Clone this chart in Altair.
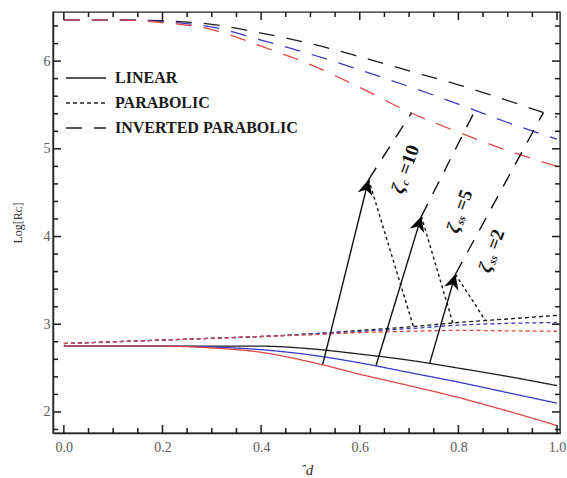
import math
import altair as alt
import pandas as pd

# ---------------- data ----------------
x_vals = [0.0, 0.1, 0.2, 0.3, 0.4, 0.5, 0.6, 0.7, 0.8, 0.9, 1.0]

lin_black = [2.75, 2.75, 2.75, 2.75, 2.75, 2.72, 2.66, 2.59, 2.50, 2.405, 2.30]
lin_blue = [2.75, 2.75, 2.75, 2.74, 2.71, 2.65, 2.56, 2.45, 2.34, 2.22, 2.10]
lin_red = [2.75, 2.75, 2.75, 2.73, 2.68, 2.57, 2.43, 2.30, 2.165, 2.01, 1.845]

par_black = [2.78, 2.80, 2.82, 2.84, 2.86, 2.89, 2.93, 2.97, 3.02, 3.06, 3.10]
par_blue = [2.78, 2.80, 2.82, 2.84, 2.86, 2.89, 2.92, 2.95, 2.99, 3.01, 3.02]
par_red = [2.78, 2.80, 2.82, 2.84, 2.86, 2.88, 2.905, 2.92, 2.93, 2.925, 2.92]

inv_black = [6.47, 6.47, 6.46, 6.42, 6.32, 6.20, 6.05, 5.89, 5.73, 5.55, 5.36]
inv_blue = [6.47, 6.47, 6.45, 6.39, 6.24, 6.08, 5.90, 5.71, 5.51, 5.30, 5.11]
inv_red = [6.47, 6.47, 6.44, 6.36, 6.17, 5.96, 5.70, 5.42, 5.19, 4.98, 4.80]

profiles = ["LINEAR", "PARABOLIC", "INVERTED PARABOLIC"]
cases = ["black", "blue", "red"]

# annotation arrows (from linear curve up to the arrow tip)
ann_base_x = [0.525, 0.633, 0.742]
ann_base_y = [2.545, 2.53, 2.56]
ann_tip_x = [0.618, 0.725, 0.794]
ann_tip_y = [4.65, 4.23, 3.57]
ann_par_x = [0.71, 0.79, 0.855]
ann_par_y = [2.95, 2.99, 3.04]
ann_inv_x = [0.705, 0.834, 0.972]
ann_inv_y = [5.41, 5.44, 5.41]
lab_x = [0.675, 0.787, 0.852]
lab_y = [4.50, 4.05, 3.60]
lab_main = ["ζ", "ζ", "ζ"]
lab_sub = ["c", "ss", "ss"]
lab_rest = ["=10", "=5", "=2"]

# axis tick positions
x_major_ticks = [0.0, 0.2, 0.4, 0.6, 0.8, 1.0]
x_minor_ticks = [0.05, 0.1, 0.15, 0.25, 0.3, 0.35, 0.45, 0.5, 0.55, 0.65, 0.7, 0.75,
                 0.85, 0.9, 0.95]
y_major_ticks = [2, 3, 4, 5, 6]
y_minor_ticks = [1.8, 2.2, 2.4, 2.6, 2.8, 3.2, 3.4, 3.6, 3.8, 4.2, 4.4, 4.6, 4.8,
                 5.2, 5.4, 5.6, 5.8, 6.2, 6.4]

# ---------------- layout / style ----------------
X_DOMAIN = [-0.022, 1.006]
Y_DOMAIN = [1.76, 6.56]
W, H = 507, 421
COLORS = ["#1e1e1e", "#3a3ac4", "#e04848"]
DASHES = [[1, 0], [4, 3], [16, 12]]
SERIF = "Liberation Serif"
MAJOR_LEN, MINOR_LEN = 8, 5
TICK_COLOR = "#1a1a1a"
TICK_W = 1.5

series = {
    ("LINEAR", "black"): lin_black, ("LINEAR", "blue"): lin_blue, ("LINEAR", "red"): lin_red,
    ("PARABOLIC", "black"): par_black, ("PARABOLIC", "blue"): par_blue, ("PARABOLIC", "red"): par_red,
    ("INVERTED PARABOLIC", "black"): inv_black, ("INVERTED PARABOLIC", "blue"): inv_blue,
    ("INVERTED PARABOLIC", "red"): inv_red,
}
rows = []
for (prof, case), ys in series.items():
    for xv, yv in zip(x_vals, ys):
        rows.append({"x": xv, "y": yv, "profile": prof, "case": case, "key": prof + case})
df = pd.DataFrame(rows)

px_x = W / (X_DOMAIN[1] - X_DOMAIN[0])
px_y = H / (Y_DOMAIN[1] - Y_DOMAIN[0])
angles = []
for bx, by, tx, ty in zip(ann_base_x, ann_base_y, ann_tip_x, ann_tip_y):
    a = math.degrees(math.atan2((tx - bx) * px_x, (ty - by) * px_y))
    angles.append(a % 360)

ann = pd.DataFrame({
    "bx": ann_base_x, "by": ann_base_y, "tx": ann_tip_x, "ty": ann_tip_y,
    "px": ann_par_x, "py": ann_par_y, "ix": ann_inv_x, "iy": ann_inv_y,
    "lx": lab_x, "ly": lab_y, "main": lab_main, "sub": lab_sub, "rest": lab_rest,
    "ang": angles,
})

xs = alt.Scale(domain=X_DOMAIN, nice=False, zero=False)
ys_ = alt.Scale(domain=Y_DOMAIN, nice=False, zero=False)
X = lambda f: alt.X(f, scale=xs, axis=None)
Y = lambda f: alt.Y(f, scale=ys_, axis=None)

x_axis_labels = alt.Axis(values=x_major_ticks, format=".1f", ticks=False, grid=False,
                         domainColor="#222", domainWidth=1.4, labelFont=SERIF, labelFontSize=14,
                         labelColor="#5a5a5a", labelFlush=False, labelOverlap=False,
                         labelPadding=7, title="ˆd", titleFont=SERIF, titleFontStyle="italic",
                         titleFontSize=15, titleFontWeight="normal", titleColor="#333",
                         titlePadding=8)
y_axis_labels = alt.Axis(values=y_major_ticks, format=".0f", ticks=False, grid=False,
                         domainColor="#222", domainWidth=1.4, labelFont=SERIF, labelFontSize=14,
                         labelColor="#5a5a5a", labelFlush=False, labelOverlap=False,
                         labelPadding=3, title="Log[Rᴄ]", titleFont=SERIF, titleFontSize=12,
                         titleFontWeight="normal", titleColor="#333", titlePadding=19)

curves = alt.Chart(df).mark_line(strokeWidth=1.3, interpolate="monotone").encode(
    x=alt.X("x:Q", scale=xs, axis=x_axis_labels),
    y=alt.Y("y:Q", scale=ys_, axis=y_axis_labels),
    color=alt.Color("case:N", scale=alt.Scale(domain=cases, range=COLORS), legend=None),
    strokeDash=alt.StrokeDash(
        "profile:N", scale=alt.Scale(domain=profiles, range=DASHES),
        legend=alt.Legend(orient="none", legendX=12, legendY=55, title=None,
                          symbolType="stroke", symbolSize=1600, symbolStrokeWidth=1.4,
                          symbolStrokeColor="#222", labelFont=SERIF, labelFontSize=16,
                          labelFontWeight="bold", labelColor="#1a1a1a", labelOffset=8,
                          labelLimit=0, clipHeight=22, rowPadding=3, padding=0),
    ),
    detail="key:N",
)

# inward frame ticks, drawn as rules positioned by the shared scales
tick_layers = []
for vals, length in ((x_major_ticks, MAJOR_LEN), (x_minor_ticks, MINOR_LEN)):
    tdf = pd.DataFrame({"v": vals})
    tick_layers.append(alt.Chart(tdf).mark_rule(color=TICK_COLOR, strokeWidth=TICK_W).encode(
        x=X("v:Q"), y=alt.value(H), y2=alt.value(H - length)))
    tick_layers.append(alt.Chart(tdf).mark_rule(color=TICK_COLOR, strokeWidth=TICK_W).encode(
        x=X("v:Q"), y=alt.value(0), y2=alt.value(length)))
for vals, length in ((y_major_ticks, MAJOR_LEN), (y_minor_ticks, MINOR_LEN)):
    tdf = pd.DataFrame({"v": vals})
    tick_layers.append(alt.Chart(tdf).mark_rule(color=TICK_COLOR, strokeWidth=TICK_W).encode(
        y=Y("v:Q"), x=alt.value(0), x2=alt.value(length)))
    tick_layers.append(alt.Chart(tdf).mark_rule(color=TICK_COLOR, strokeWidth=TICK_W).encode(
        y=Y("v:Q"), x=alt.value(W), x2=alt.value(W - length)))

base = alt.Chart(ann)
arrows = base.mark_rule(color="#111", strokeWidth=1.4).encode(
    x=X("bx:Q"), y=Y("by:Q"), x2="tx:Q", y2="ty:Q")
dotted = base.mark_rule(color="#111", strokeWidth=1.4, strokeDash=[3, 3]).encode(
    x=X("tx:Q"), y=Y("ty:Q"), x2="px:Q", y2="py:Q")
dashed = base.mark_rule(color="#111", strokeWidth=1.4, strokeDash=[14, 11]).encode(
    x=X("tx:Q"), y=Y("ty:Q"), x2="ix:Q", y2="iy:Q")
heads = base.mark_point(shape="M0,0 L0.5,1 L0,0.7 L-0.5,1 Z", filled=True, color="#000",
                        size=900, opacity=1).encode(
    x=X("tx:Q"), y=Y("ty:Q"), angle=alt.Angle("ang:Q", scale=None))

TEXT_ANGLE = 290
t_main = base.mark_text(font=SERIF, fontSize=19, fontWeight="bold", fontStyle="italic",
                        align="left", baseline="middle", angle=TEXT_ANGLE, color="#111").encode(
    x=X("lx:Q"), y=Y("ly:Q"), text="main:N")
t_sub = base.mark_text(font=SERIF, fontSize=11, fontWeight="bold", fontStyle="italic",
                       align="left", baseline="middle", angle=TEXT_ANGLE, dx=10, dy=5,
                       color="#111").encode(x=X("lx:Q"), y=Y("ly:Q"), text="sub:N")
t_rest_c = base.transform_filter(alt.datum.sub == "c").mark_text(
    font=SERIF, fontSize=19, fontWeight="bold", align="left", baseline="middle",
    angle=TEXT_ANGLE, dx=20, color="#111").encode(x=X("lx:Q"), y=Y("ly:Q"), text="rest:N")
t_rest_ss = base.transform_filter(alt.datum.sub == "ss").mark_text(
    font=SERIF, fontSize=19, fontWeight="bold", align="left", baseline="middle",
    angle=TEXT_ANGLE, dx=24, color="#111").encode(x=X("lx:Q"), y=Y("ly:Q"), text="rest:N")

chart = alt.layer(
    curves, *tick_layers, arrows, dotted, dashed, heads, t_main, t_sub, t_rest_c, t_rest_ss
).resolve_axis(
    x="independent", y="independent"
).properties(
    width=W, height=H,
    padding={"left": 53, "top": 12, "right": 7, "bottom": 45},
    autosize=alt.AutoSizeParams(type="none"),
    background="white",
).configure_view(stroke="#222", strokeWidth=1.4)

chart.save("out.html", embed_options={"renderer": "svg", "actions": False})
